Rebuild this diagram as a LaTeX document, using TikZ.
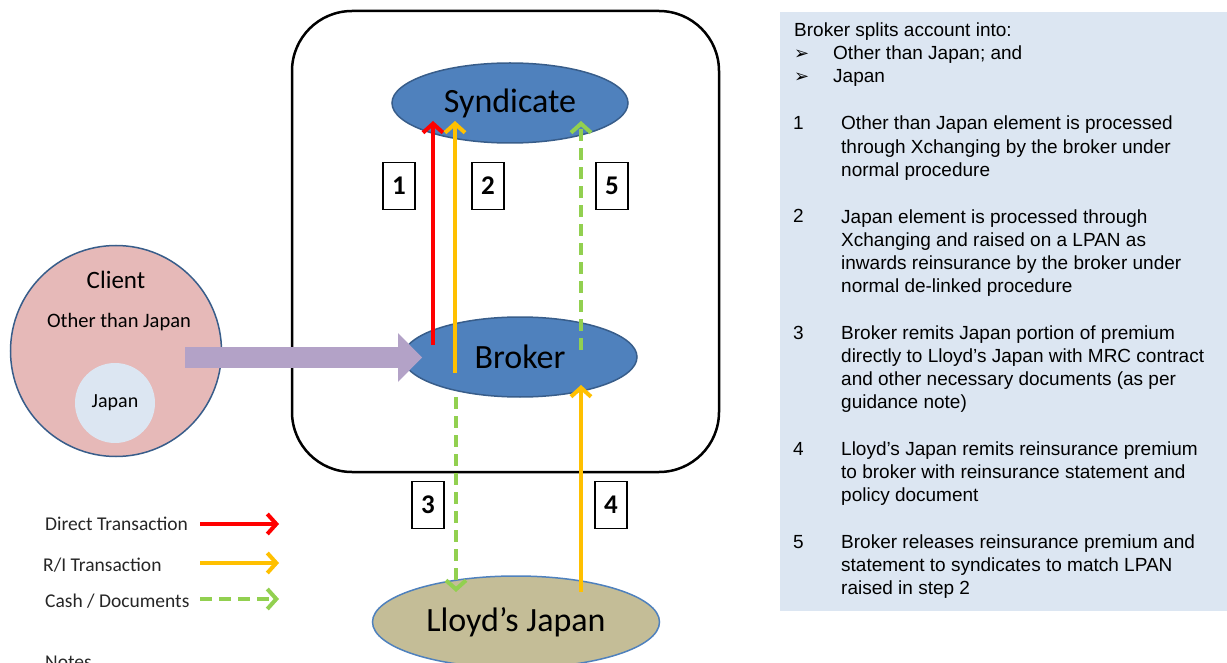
\documentclass[tikz,border=0pt]{standalone}
\usepackage{fontspec}
\setmainfont{Carlito}
\newfontfamily\notefont{Liberation Sans}
\newfontfamily\symfont{DejaVu Sans}
\usepackage{tikz}
\usetikzlibrary{shapes.geometric,arrows.meta}

\definecolor{nodeblue}{HTML}{4F81BD}
\definecolor{nodeedge}{HTML}{385D8A}
\definecolor{lloydtan}{HTML}{C4BD97}
\definecolor{clientpink}{HTML}{E6B9B8}
\definecolor{paleblue}{HTML}{DCE6F2}
\definecolor{directred}{HTML}{FF0000}
\definecolor{riyellow}{HTML}{FFC000}
\definecolor{cashgreen}{HTML}{92D050}
\definecolor{xferpurple}{HTML}{B3A2C7}

\tikzset{
	party/.style={ellipse,draw=nodeedge,line width=1.5pt,inner sep=2pt,font=\fontsize{34}{34}\selectfont},
	stepno/.style={rectangle,draw,line width=1.2pt,fill=white,minimum width=32pt,minimum height=47pt,inner sep=0pt,font=\fontsize{27}{27}\selectfont\bfseries},
	direct/.style={draw=directred,line width=4pt,-{Straight Barb[length=9pt,width=20pt]}},
	reins/.style={draw=riyellow,line width=4pt,-{Straight Barb[length=9pt,width=20pt]}},
	cash/.style={draw=cashgreen,line width=4pt,dash pattern=on 12pt off 7pt,-{Straight Barb[length=9pt,width=20pt]}},
	legend text/.style={anchor=base west,inner sep=0pt,text=black!85,font=\fontsize{19.5}{19.5}\selectfont},
	note text/.style={anchor=base west,inner sep=0pt,align=left,font=\notefont\fontsize{19}{23.2}\selectfont},
}

\begin{document}
\begin{tikzpicture}[x=1pt,y=-1pt]
		\useasboundingbox (0,0) rectangle (1227,663);
%		\draw[help lines,step=50] (0,0) grid (1227,663);
		\draw[line width=2.5pt,rounded corners=60pt] (292,11) rectangle (719,472);
		\path (510,103) node(syndicate) [party,fill=nodeblue,minimum width=236pt,minimum height=80pt] {Syndicate};
		\path (520,357) node(broker) [party,fill=nodeblue,minimum width=234pt,minimum height=80pt] {Broker};
		\path (516,622) node(lloyds) [party,draw=nodeblue,fill=lloydtan,minimum width=287pt,minimum height=92pt] {Lloyd’s Japan};
		\path (116,351) node(client) [circle,draw=nodeedge,line width=1.5pt,fill=clientpink,minimum size=211pt] {};
		\path (115,403) node(japan) [circle,fill=paleblue,minimum size=80pt,font=\fontsize{20}{20}\selectfont] {Japan};
		\path (116,289) node(client_label) [anchor=base,inner sep=0pt,font=\fontsize{25}{25}\selectfont] {Client};
		\path (119,327) node(other_label) [anchor=base,inner sep=0pt,font=\fontsize{20.5}{20.5}\selectfont] {Other than Japan};

		\path (185,357.5) coordinate (xfer_start);
		\path (422,357.5) coordinate (xfer_end);
		\draw[line width=21pt,draw=xferpurple,fill=xferpurple,-{Triangle[length=24pt,width=49pt,line width=0pt]}] (xfer_start) -- (xfer_end);

		\path (433,345) coordinate (one_start);
		\path (433,121) coordinate (one_end);
		\path (455,373) coordinate (two_start);
		\path (455,121) coordinate (two_end);
		\path (581,350) coordinate (five_start);
		\path (581,121) coordinate (five_end);
		\path (456,397) coordinate (three_start);
		\path (456,592) coordinate (three_end);
		\path (581,592) coordinate (four_start);
		\path (581,385) coordinate (four_end);
		\draw[direct] (one_start) -- (one_end);
		\draw[reins] (two_start) -- (two_end);
		\draw[cash] (five_start) -- (five_end);
		\draw[cash] (three_start) -- (three_end);
		\draw[reins] (four_start) -- (four_end);

		\path (399,186) node(box1) [stepno] {1};
		\path (488,186) node(box2) [stepno] {2};
		\path (612,186) node(box5) [stepno] {5};
		\path (428,505) node(box3) [stepno] {3};
		\path (611,505) node(box4) [stepno] {4};

		\path (45,530) node(leg_direct) [legend text] {Direct Transaction};
		\path (43,571) node(leg_reins) [legend text] {R/I Transaction};
		\path (45,607) node(leg_cash) [legend text] {Cash / Documents};
		\path (45,668) node(notes) [legend text] {Notes};
		\path (200,524) coordinate (leg_direct_a);
		\path (279,524) coordinate (leg_direct_b);
		\path (200,563) coordinate (leg_reins_a);
		\path (279,563) coordinate (leg_reins_b);
		\path (200,599) coordinate (leg_cash_a);
		\path (279,599) coordinate (leg_cash_b);
		\draw[direct] (leg_direct_a) -- (leg_direct_b);
		\draw[reins] (leg_reins_a) -- (leg_reins_b);
		\draw[cash] (leg_cash_a) -- (leg_cash_b);

		\fill[paleblue] (780,12) rectangle (1227,611);
		\path (794,37) node(splits) [note text] {Broker splits account into:};
		\path (794,60) node(bullet_a) [note text] {\symfont\fontsize{18}{18}\selectfont ➢};
		\path (833,60) node(other_part) [note text] {Other than Japan; and};
		\path (794,83) node(bullet_b) [note text] {\symfont\fontsize{18}{18}\selectfont ➢};
		\path (833,83) node(japan_part) [note text] {Japan};
		% multi-line notes sit on the baseline of their last line
		\path (793,130) node(num1) [note text] {1};
		\path (841,176.4) node(item1) [note text] {Other than Japan element is processed\\through Xchanging by the broker under\\normal procedure};
		\path (793,223) node(num2) [note text] {2};
		\path (841,292.6) node(item2) [note text] {Japan element is processed through\\Xchanging and raised on a LPAN as\\inwards reinsurance by the broker under\\normal de-linked procedure};
		\path (793,339) node(num3) [note text] {3};
		\path (841,408.6) node(item3) [note text] {Broker remits Japan portion of premium\\directly to Lloyd’s Japan with MRC contract\\and other necessary documents (as per\\guidance note)};
		\path (793,455) node(num4) [note text] {4};
		\path (841,501.4) node(item4) [note text] {Lloyd’s Japan remits reinsurance premium\\to broker with reinsurance statement and\\policy document};
		\path (793,548) node(num5) [note text] {5};
		\path (841,594.4) node(item5) [note text] {Broker releases reinsurance premium and\\statement to syndicates to match LPAN\\raised in step 2};
	\end{tikzpicture}
\end{document}
